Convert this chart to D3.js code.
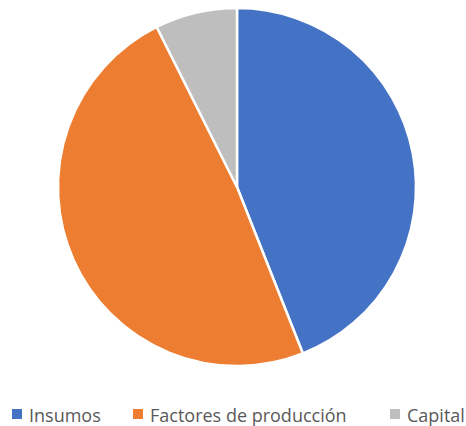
<!DOCTYPE html>
<html>
<head>
<meta charset="utf-8">
<script src="https://cdn.jsdelivr.net/npm/d3@7"></script>
<style>
  body { margin: 0; background: #fff; }
  text { font-family: "Open Sans", sans-serif; }
</style>
</head>
<body>
<div id="chart"></div>
<script>
const width = 466;
const height = 426;

const categories = ["Insumos", "Factores de producción", "Capital"];
const values = [44.0, 48.6, 7.4];
const colors = ["#4472C4", "#ED7D31", "#BEBEBE"];

const svg = d3.select("#chart")
    .append("svg")
    .attr("width", width)
    .attr("height", height);

const color = d3.scaleOrdinal()
    .domain(categories)
    .range(colors);

const pie = d3.pie()
    .sort(null)
    .value(d => d.value);

const arc = d3.arc()
    .innerRadius(0)
    .outerRadius(179);

const data = categories.map((c, i) => ({ name: c, value: values[i] }));

const g = svg.append("g")
    .attr("transform", "translate(237,187)");

g.selectAll("path")
    .data(pie(data))
    .enter()
    .append("path")
    .attr("d", arc)
    .attr("fill", d => color(d.data.name))
    .attr("stroke", "#fff")
    .attr("stroke-width", 2.5)
    .attr("stroke-linejoin", "round");

// legend
const legendX = [12, 133, 390];
const legend = svg.selectAll(".legend")
    .data(categories)
    .enter()
    .append("g")
    .attr("class", "legend")
    .attr("transform", (d, i) => `translate(${legendX[i]}, 409)`);

legend.append("rect")
    .attr("width", 10)
    .attr("height", 10)
    .attr("fill", d => color(d));

legend.append("text")
    .attr("x", 17)
    .attr("y", 13)
    .attr("fill", "#595959")
    .style("font-size", "18px")
    .text(d => d);
</script>
</body>
</html>
